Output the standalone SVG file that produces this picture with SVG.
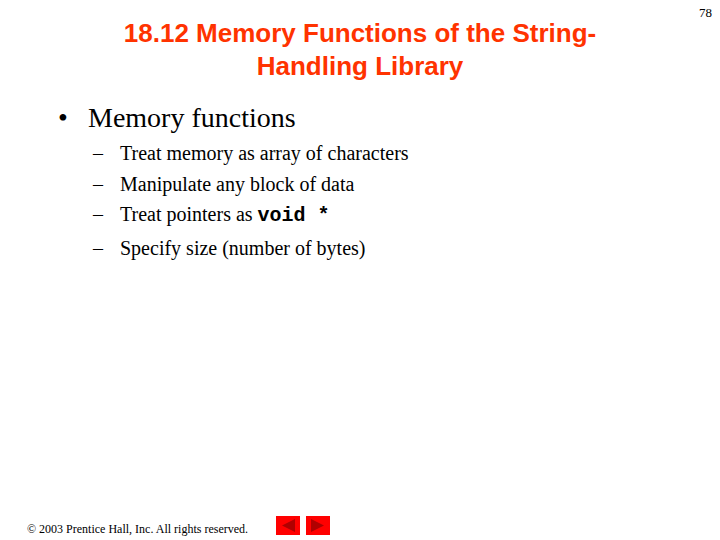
<svg xmlns="http://www.w3.org/2000/svg" width="720" height="540" viewBox="0 0 720 540">
<style>
.t{font-family:"Liberation Sans",Arial,sans-serif;font-weight:bold;font-size:26px;fill:#ff3300}
.s{font-family:"Liberation Serif","Times New Roman",serif;fill:#000}
.m{font-family:"Liberation Mono","Courier New",monospace;font-weight:bold}
</style>
<rect width="720" height="540" fill="#fff"/>
<text class="t" x="360" y="42" text-anchor="middle">18.12  Memory Functions of the String-</text>
<text class="t" x="360" y="75" text-anchor="middle">Handling Library</text>
<text class="s" x="712" y="17" font-size="13" text-anchor="end">78</text>
<text class="s" x="58" y="127" font-size="28">•</text>
<text class="s" x="88" y="127" font-size="28">Memory functions</text>
<g class="s" font-size="20">
<text x="93" y="160">–</text><text x="120" y="160">Treat memory as array of characters</text>
<text x="93" y="191">–</text><text x="120" y="191">Manipulate any block of data</text>
<text x="93" y="221">–</text><text x="120" y="221">Treat pointers as <tspan class="m">void *</tspan></text>
<text x="93" y="255">–</text><text x="120" y="255">Specify size (number of bytes)</text>
</g>
<text class="s" x="27" y="533" font-size="12">© 2003 Prentice Hall, Inc.  All rights reserved.</text>
<rect x="276" y="516" width="24" height="19" fill="#ff0000"/>
<polygon points="282,525.5 295,519 295,532" fill="#b00000"/>
<rect x="306" y="516" width="24" height="19" fill="#ff0000"/>
<polygon points="324,525.5 311,519 311,532" fill="#b00000"/>
</svg>
